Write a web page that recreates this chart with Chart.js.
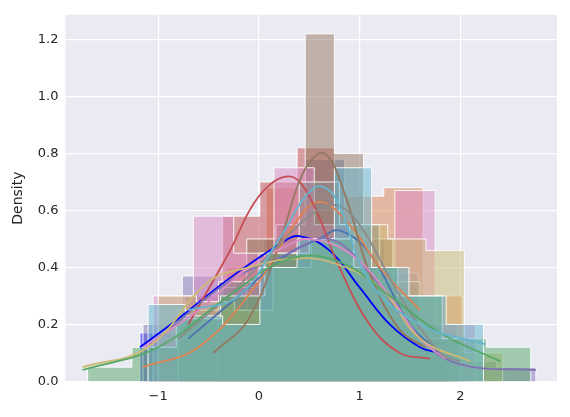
<!DOCTYPE html>
<html>
<head>
<meta charset="UTF-8">
<script src="https://cdn.jsdelivr.net/npm/chart.js@4.4.0/dist/chart.umd.min.js"></script>
<style>
  html, body { margin: 0; background: #fff; }
  #wrap { width: 570px; height: 417px; }
</style>
</head>
<body>
<div id="wrap"><canvas id="c"></canvas></div>
<script>
// histogram bins: first edge, bin width, heights ; kde: x, y
const blueBins = [-1.18, 0.4],  blueHeights = [0.17, 0.2, 0.3, 0.42, 0.5, 0.4, 0.25, 0.15];
const blueKdeX = [-1.18, -0.8, -0.3, 0.2, 0.4, 0.7, 1.0, 1.3, 1.6, 1.8];
const blueKdeY = [0.12, 0.22, 0.36, 0.48, 0.51, 0.46, 0.33, 0.2, 0.12, 0.1];

const brownBins = [-0.41, 0.29], brownHeights = [0.25, 0.5, 0.55, 1.22, 0.8, 0.5, 0.3, 0.15];
const brownKdeX = [-0.45, -0.1, 0.2, 0.45, 0.65, 0.85, 1.1, 1.4, 1.65];
const brownKdeY = [0.1, 0.22, 0.48, 0.74, 0.8, 0.66, 0.38, 0.18, 0.12];

const redBins = [-1.1, 0.37], redHeights = [0.15, 0.3, 0.58, 0.7, 0.82, 0.4, 0.2, 0.1];
const redKdeX = [-0.7, -0.3, 0.0, 0.3, 0.5, 0.8, 1.1, 1.4, 1.7];
const redKdeY = [0.2, 0.45, 0.65, 0.72, 0.65, 0.4, 0.2, 0.1, 0.08];

const pinkBins = [-1.05, 0.4], pinkHeights = [0.3, 0.58, 0.45, 0.75, 0.55, 0.4, 0.67, 0.2];
const pinkKdeX = [-1.15, -0.6, -0.1, 0.3, 0.5, 0.9, 1.3, 1.6, 1.85];
const pinkKdeY = [0.12, 0.25, 0.4, 0.48, 0.5, 0.45, 0.3, 0.15, 0.08];

const orangeBins = [-1.1, 0.39], orangeHeights = [0.1, 0.2, 0.4, 0.68, 0.6, 0.65, 0.68, 0.3];
const orangeKdeX = [-1.15, -0.6, 0.0, 0.35, 0.6, 0.9, 1.2, 1.6];
const orangeKdeY = [0.05, 0.12, 0.35, 0.55, 0.63, 0.55, 0.4, 0.25];

const greenBins = [-1.7, 0.44], greenHeights = [0.05, 0.12, 0.22, 0.3, 0.45, 0.5, 0.4, 0.3, 0.15, 0.12];
const greenKdeX = [-1.75, -1.0, -0.3, 0.3, 0.8, 1.3, 1.8, 2.4];
const greenKdeY = [0.04, 0.12, 0.3, 0.43, 0.42, 0.3, 0.17, 0.07];

const purpleBins = [-1.15, 0.39], purpleHeights = [0.2, 0.37, 0.33, 0.45, 0.5, 0.55, 0.38, 0.2, 0.07, 0.05];
const purpleKdeX = [-1.0, -0.3, 0.3, 0.7, 1.1, 1.6, 2.0, 2.75];
const purpleKdeY = [0.15, 0.35, 0.45, 0.5, 0.38, 0.15, 0.06, 0.04];

const oliveBins = [-1.0, 0.38], oliveHeights = [0.3, 0.28, 0.25, 0.4, 0.5, 0.55, 0.5, 0.46, 0.1];
const oliveKdeX = [-1.75, -1.1, -0.5, -0.1, 0.3, 0.7, 1.2, 1.6, 2.1];
const oliveKdeY = [0.05, 0.12, 0.35, 0.4, 0.43, 0.42, 0.33, 0.15, 0.07];

const cyanBins = [-1.1, 0.37], cyanHeights = [0.27, 0.23, 0.2, 0.4, 0.5, 0.75, 0.4, 0.3, 0.2];
const cyanKdeX = [-0.7, -0.2, 0.2, 0.55, 0.75, 1.1, 1.6, 2.25];
const cyanKdeY = [0.25, 0.3, 0.5, 0.68, 0.65, 0.35, 0.2, 0.13];

const grayBins = [-0.8, 0.4], grayHeights = [0.25, 0.35, 0.45, 0.7, 0.55, 0.35, 0.15];
const grayKdeX = [-0.8, -0.3, 0.2, 0.5, 0.75, 1.0, 1.4, 1.8, 2.0];
const grayKdeY = [0.15, 0.3, 0.48, 0.58, 0.62, 0.55, 0.3, 0.1, 0.07];

const steelBins = [-0.75, 0.4], steelHeights = [0.2, 0.35, 0.5, 0.78, 0.5, 0.25, 0.1];
const steelKdeX = [-0.7, -0.2, 0.3, 0.6, 0.8, 1.1, 1.5, 1.8];
const steelKdeY = [0.15, 0.3, 0.45, 0.5, 0.53, 0.45, 0.2, 0.1];

// first entry ends up on top
const series = [
  ['#64b5cd', cyanBins, cyanHeights, cyanKdeX, cyanKdeY],
  ['#55a868', greenBins, greenHeights, greenKdeX, greenKdeY],
  ['#ccb974', oliveBins, oliveHeights, oliveKdeX, oliveKdeY],
  ['#8c8c8c', grayBins, grayHeights, grayKdeX, grayKdeY],
  ['#da8bc3', pinkBins, pinkHeights, pinkKdeX, pinkKdeY],
  ['#937860', brownBins, brownHeights, brownKdeX, brownKdeY],
  ['#8172b3', purpleBins, purpleHeights, purpleKdeX, purpleKdeY],
  ['#c44e52', redBins, redHeights, redKdeX, redKdeY],
  ['#dd8452', orangeBins, orangeHeights, orangeKdeX, orangeKdeY],
  ['#4c72b0', steelBins, steelHeights, steelKdeX, steelKdeY],
  ['#0000ff', blueBins, blueHeights, blueKdeX, blueKdeY]
];

function alpha(hex, a) {
  const n = parseInt(hex.slice(1), 16);
  return `rgba(${n >> 16},${(n >> 8) & 255},${n & 255},${a})`;
}

const histSets = [], kdeSets = [];
series.forEach(([col, bins, h, kx, ky]) => {
  const pts = [{x: bins[0], y: 0}];
  h.forEach((v, i) => pts.push({x: bins[0] + i * bins[1], y: v}));
  const end = bins[0] + h.length * bins[1];
  pts.push({x: end, y: h[h.length - 1]});
  pts.push({x: end, y: 0});
  histSets.push({
    data: pts, stepped: 'before', fill: 'origin',
    backgroundColor: alpha(col, 0.5), borderColor: 'rgba(255,255,255,0.9)',
    borderWidth: 1, pointRadius: 0, order: 2
  });
  kdeSets.push({
    data: kx.map((x, i) => ({x, y: ky[i]})), fill: false, tension: 0.4,
    borderColor: col, borderWidth: 1.8, pointRadius: 0, order: 1
  });
});

const bgPlugin = {
  id: 'bg',
  beforeDraw(chart) {
    const {ctx, chartArea: a} = chart;
    ctx.save(); ctx.fillStyle = '#eaeaf2';
    ctx.fillRect(a.left, a.top, a.right - a.left, a.bottom - a.top);
    ctx.restore();
  }
};

new Chart(document.getElementById('c'), {
  type: 'line',
  data: { datasets: [...histSets, ...kdeSets] },
  plugins: [bgPlugin],
  options: {
    responsive: true, maintainAspectRatio: false, animation: false,
    layout: { padding: { top: 6, right: 13, left: 6, bottom: 6 } },
    plugins: { legend: { display: false }, tooltip: { enabled: false } },
    scales: {
      x: {
        type: 'linear', min: -1.92, max: 2.96,
        afterBuildTicks: ax => { ax.ticks = [-1, 0, 1, 2].map(v => ({value: v})); },
        grid: { color: '#fff', lineWidth: 1.2, drawTicks: false },
        border: { display: false },
        ticks: { color: '#262626', font: { family: 'DejaVu Sans', size: 13 }, padding: 7,
                 callback: v => String(v).replace('-', '\u2212') }
      },
      y: {
        min: 0, max: 1.287,
        afterBuildTicks: ax => { ax.ticks = [0, 0.2, 0.4, 0.6, 0.8, 1.0, 1.2].map(v => ({value: v})); },
        grid: { color: '#fff', lineWidth: 1.2, drawTicks: false },
        border: { display: false },
        title: { display: true, text: 'Density', color: '#262626', font: { family: 'DejaVu Sans', size: 14 } },
        ticks: { color: '#262626', font: { family: 'DejaVu Sans', size: 13 }, padding: 7,
                 callback: v => v.toFixed(1) }
      }
    }
  }
});
</script>
</body>
</html>
